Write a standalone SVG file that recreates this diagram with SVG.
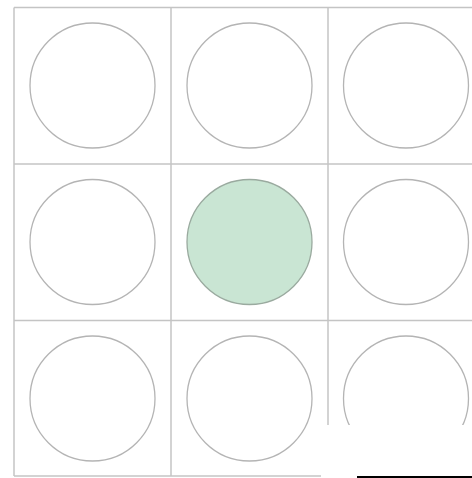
<svg xmlns="http://www.w3.org/2000/svg" width="472" height="478" viewBox="0 0 472 478">
<style>
.grid{stroke:#c4c4c4;stroke-width:1.5;fill:none}
.c{fill:#fff;stroke:#b4b4b4;stroke-width:1.3}
.hl{fill:#c9e5d3;stroke:#9aaa9f;stroke-width:1.3}
</style>
<rect width="472" height="478" fill="#fff"/>
<g id="grid" class="grid">
<line x1="14" y1="7.5" x2="472" y2="7.5"/>
<line x1="14" y1="164" x2="472" y2="164"/>
<line x1="14" y1="320.5" x2="472" y2="320.5"/>
<line x1="14" y1="476" x2="472" y2="476"/>
<line x1="14" y1="7.5" x2="14" y2="476"/>
<line x1="171" y1="7.5" x2="171" y2="476"/>
<line x1="328" y1="7.5" x2="328" y2="476"/>
</g>
<g id="n11"><circle class="c" cx="92.5" cy="85.5" r="62.5"/></g>
<g id="n12"><circle class="c" cx="249.5" cy="85.5" r="62.5"/></g>
<g id="n13"><circle class="c" cx="406" cy="85.5" r="62.5"/></g>
<g id="n21"><circle class="c" cx="92.5" cy="242" r="62.5"/></g>
<g id="n22"><circle class="hl" cx="249.5" cy="242" r="62.5"/></g>
<g id="n23"><circle class="c" cx="406" cy="242" r="62.5"/></g>
<g id="n31"><circle class="c" cx="92.5" cy="398.5" r="62.5"/></g>
<g id="n32"><circle class="c" cx="249.5" cy="398.5" r="62.5"/></g>
<g id="n33"><circle class="c" cx="406" cy="398.5" r="62.5"/></g>
<rect x="321" y="425" width="151" height="53" fill="#fff"/>
<rect x="357" y="476" width="115" height="2" fill="#000"/>
</svg>
